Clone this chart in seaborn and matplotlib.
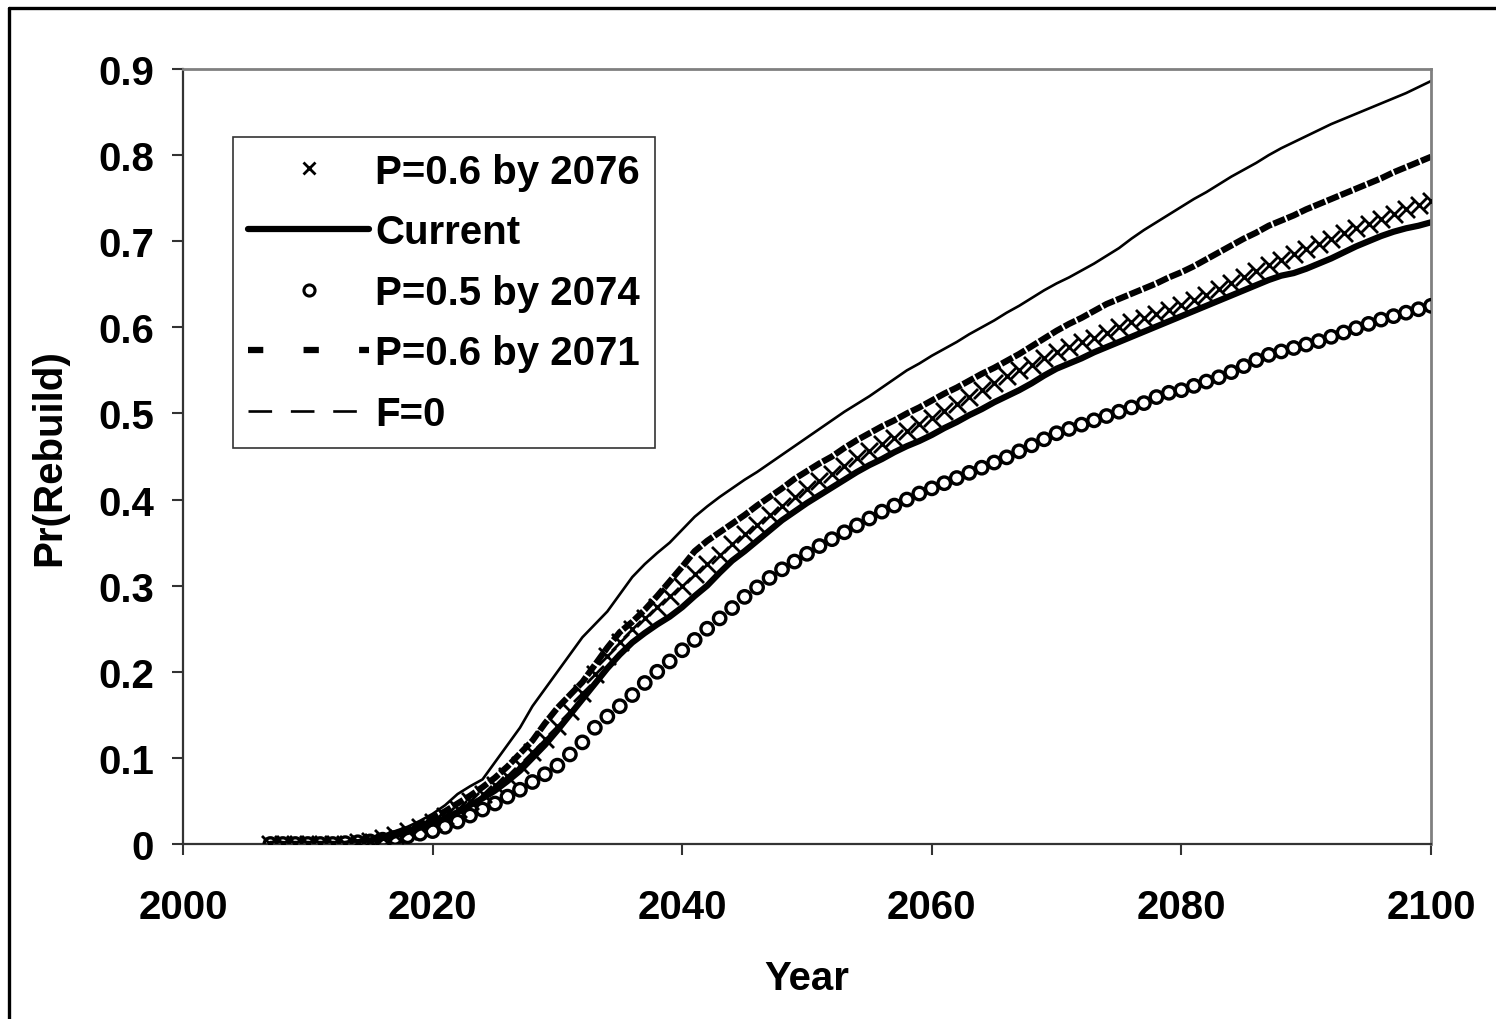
import matplotlib
matplotlib.use("Agg")
import matplotlib.pyplot as plt
import seaborn as sns
from matplotlib.lines import Line2D

years = list(range(2007, 2101))

# P=0.6 by 2076 (x markers)
p06_2076 = [0, 0, 0,
            0, 0, 0, 0, 0.002, 0.004, 0.007, 0.011, 0.015, 0.02,
            0.026, 0.033, 0.041, 0.05, 0.058, 0.068, 0.079, 0.092, 0.107, 0.122,
            0.137, 0.155, 0.175, 0.197, 0.218, 0.235, 0.25, 0.262, 0.275, 0.288,
            0.3, 0.313, 0.325, 0.336, 0.348, 0.36, 0.371, 0.382, 0.393, 0.403,
            0.412, 0.421, 0.43, 0.439, 0.448, 0.456, 0.464, 0.472, 0.48, 0.488,
            0.495, 0.503, 0.511, 0.519, 0.527, 0.535, 0.543, 0.55, 0.556, 0.564,
            0.571, 0.577, 0.583, 0.588, 0.594, 0.6, 0.606, 0.611, 0.616, 0.62,
            0.626, 0.632, 0.638, 0.645, 0.652, 0.659, 0.666, 0.672, 0.678, 0.685,
            0.691, 0.697, 0.703, 0.709, 0.715, 0.72, 0.726, 0.732, 0.737, 0.742,
            0.747]

# Current (thick solid)
current = [0, 0, 0,
           0, 0, 0, 0, 0.002, 0.004, 0.007, 0.01, 0.014, 0.019,
           0.024, 0.03, 0.037, 0.045, 0.053, 0.062, 0.073, 0.085, 0.1, 0.115,
           0.132, 0.15, 0.168, 0.186, 0.204, 0.22, 0.234, 0.245, 0.255, 0.264,
           0.275, 0.288, 0.3, 0.315, 0.329, 0.34, 0.352, 0.364, 0.376, 0.386,
           0.396, 0.405, 0.414, 0.423, 0.432, 0.44, 0.447, 0.455, 0.462, 0.468,
           0.475, 0.483, 0.49, 0.498, 0.505, 0.513, 0.52, 0.527, 0.535, 0.544,
           0.552, 0.558, 0.564, 0.571, 0.577, 0.583, 0.589, 0.595, 0.601, 0.607,
           0.613, 0.619, 0.625, 0.631, 0.637, 0.643, 0.649, 0.655, 0.66, 0.663,
           0.668, 0.674, 0.68, 0.687, 0.694, 0.7, 0.706, 0.711, 0.715, 0.718,
           0.722]

# P=0.5 by 2074 (open circles)
p05_2074 = [0, 0, 0,
            0, 0, 0, 0.001, 0.002, 0.003, 0.005, 0.007, 0.009, 0.012,
            0.015, 0.02, 0.026, 0.033, 0.04, 0.047, 0.055, 0.063, 0.072, 0.081,
            0.091, 0.104, 0.118, 0.135, 0.148, 0.16, 0.173, 0.187, 0.2, 0.212,
            0.225, 0.237, 0.25, 0.262, 0.274, 0.287, 0.298, 0.309, 0.319, 0.328,
            0.337, 0.346, 0.354, 0.362, 0.37, 0.378, 0.386, 0.393, 0.4, 0.407,
            0.413, 0.419, 0.425, 0.431, 0.437, 0.443, 0.449, 0.456, 0.463, 0.47,
            0.477, 0.482, 0.487, 0.492, 0.497, 0.502, 0.507, 0.512, 0.519, 0.524,
            0.527, 0.532, 0.537, 0.542, 0.548, 0.555, 0.562, 0.568, 0.572, 0.576,
            0.58, 0.584, 0.589, 0.594, 0.599, 0.604, 0.609, 0.613, 0.617, 0.621,
            0.625]

# P=0.6 by 2071 (thick dashed)
p06_2071 = [0, 0, 0,
            0, 0, 0, 0, 0.002, 0.005, 0.008, 0.012, 0.017, 0.023,
            0.03, 0.038, 0.047, 0.056, 0.066, 0.077, 0.09, 0.105, 0.12, 0.14,
            0.158, 0.173, 0.188, 0.208, 0.228, 0.246, 0.258, 0.272, 0.288, 0.305,
            0.322, 0.34, 0.352, 0.362, 0.372, 0.382, 0.393, 0.403, 0.413, 0.424,
            0.433, 0.442, 0.45, 0.46, 0.469, 0.477, 0.485, 0.492, 0.5, 0.507,
            0.515, 0.523, 0.53, 0.538, 0.546, 0.553, 0.561, 0.569, 0.578, 0.587,
            0.596, 0.604, 0.611, 0.619, 0.627, 0.633, 0.639, 0.645, 0.651, 0.658,
            0.664, 0.671, 0.679, 0.687, 0.695, 0.703, 0.71, 0.718, 0.724, 0.73,
            0.737, 0.743, 0.749, 0.755, 0.761, 0.767, 0.773, 0.78, 0.786, 0.792,
            0.798]

# F=0 (thin line)
f_zero = [0, 0, 0,
          0, 0, 0, 0.001, 0.003, 0.006, 0.01, 0.015, 0.02, 0.027,
          0.035, 0.045, 0.058, 0.067, 0.075, 0.095, 0.115, 0.135, 0.16, 0.18,
          0.2, 0.22, 0.24, 0.255, 0.27, 0.29, 0.31, 0.325, 0.338, 0.35,
          0.365, 0.38, 0.392, 0.403, 0.413, 0.423, 0.432, 0.442, 0.452, 0.462,
          0.472, 0.482, 0.492, 0.502, 0.511, 0.52, 0.53, 0.54, 0.55, 0.558,
          0.567, 0.575, 0.583, 0.592, 0.6, 0.608, 0.617, 0.625, 0.634, 0.643,
          0.651, 0.658, 0.666, 0.674, 0.683, 0.692, 0.703, 0.713, 0.722, 0.731,
          0.74, 0.749, 0.757, 0.766, 0.775, 0.783, 0.791, 0.8, 0.808, 0.815,
          0.822, 0.829, 0.836, 0.842, 0.848, 0.854, 0.86, 0.866, 0.872, 0.879,
          0.886]

labels = ["P=0.6 by 2076", "Current", "P=0.5 by 2074", "P=0.6 by 2071", "F=0"]
x_ticks = [2000, 2020, 2040, 2060, 2080, 2100]
y_ticks = [0, 0.1, 0.2, 0.3, 0.4, 0.5, 0.6, 0.7, 0.8, 0.9]

sns.set_theme(style="white")
plt.rcParams["font.family"] = ["Liberation Sans", "DejaVu Sans"]
plt.rcParams["font.weight"] = "bold"
plt.rcParams["text.color"] = "black"
plt.rcParams["axes.labelcolor"] = "black"
plt.rcParams["xtick.color"] = "black"
plt.rcParams["ytick.color"] = "black"
plt.rcParams["lines.scale_dashes"] = False

fig = plt.figure(figsize=(14.96, 10.2), dpi=100)
ax = fig.add_axes([183 / 1496, 175 / 1020, 1248 / 1496, 775 / 1020])

sns.scatterplot(x=years, y=p06_2076, ax=ax, marker="x", s=150, color="black",
                linewidth=2.0, zorder=3)
sns.lineplot(x=years, y=current, ax=ax, color="black", linewidth=4.5, zorder=2)
sns.scatterplot(x=years, y=p05_2074, ax=ax, marker="o", s=80, facecolor="none",
                edgecolor="black", linewidth=2.4, zorder=3)
sns.lineplot(x=years, y=p06_2071, ax=ax, color="black", linewidth=4.5,
             dashes=False, zorder=2).lines[-1].set_dashes((9, 1.5))
sns.lineplot(x=years, y=f_zero, ax=ax, color="black", linewidth=1.9, zorder=2)

ax.set_xlim(2000, 2100)
ax.set_ylim(0, 0.9)
ax.set_xticks(x_ticks)
ax.set_xticklabels([str(t) for t in x_ticks])
ax.set_yticks(y_ticks)
ax.set_yticklabels(["0"] + [f"{t:.1f}" for t in y_ticks[1:]])
ax.tick_params(axis="both", direction="out", length=8, width=1.5,
               labelsize=29, color="#333333")
ax.tick_params(axis="x", pad=24)
ax.tick_params(axis="y", pad=13)
ax.tick_params(bottom=True, left=True)

for side in ["top", "right"]:
    ax.spines[side].set_color("#808080")
    ax.spines[side].set_linewidth(2)
for side in ["left", "bottom"]:
    ax.spines[side].set_color("#333333")
    ax.spines[side].set_linewidth(1.6)

ax.set_xlabel("Year", fontsize=29, fontweight="bold")
ax.set_ylabel("Pr(Rebuild)", fontsize=29, fontweight="bold")
ax.xaxis.set_label_coords(0.5, -0.148)
ax.yaxis.set_label_coords(-0.092, 0.5)

handles = [
    Line2D([], [], color="black", marker="x", linestyle="none", markersize=9,
           markeredgewidth=2.0),
    Line2D([], [], color="black", linewidth=4.5, solid_capstyle="round"),
    Line2D([], [], color="black", marker="o", linestyle="none", markersize=8,
           markerfacecolor="none", markeredgewidth=2.2),
    Line2D([], [], color="black", linewidth=4.5, dashes=(11, 29)),
    Line2D([], [], color="black", linewidth=1.9, dashes=(17, 13.5)),
]
leg = ax.legend(handles, labels, loc="upper left", bbox_to_anchor=(0.04, 0.912),
                fontsize=29, frameon=True, fancybox=False, framealpha=1,
                edgecolor="#333333", borderpad=0.38, labelspacing=0.56,
                handlelength=3.0, handletextpad=0.15, borderaxespad=0)
leg.get_frame().set_linewidth(1.2)

fig.add_artist(Line2D([8.5 / 1496, 8.5 / 1496], [0, 1 - 8.5 / 1020],
                      transform=fig.transFigure, color="black", linewidth=2.4))
fig.add_artist(Line2D([8.5 / 1496, 1], [1 - 8.5 / 1020, 1 - 8.5 / 1020],
                      transform=fig.transFigure, color="black", linewidth=2.4))

fig.savefig("out.png", dpi=100, facecolor="white")
